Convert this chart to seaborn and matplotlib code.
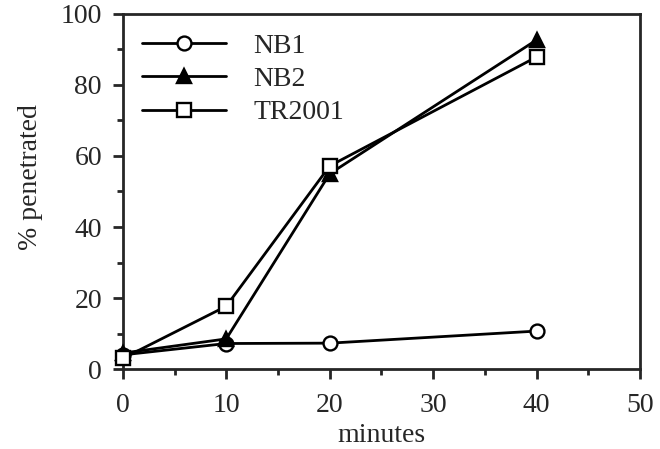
import matplotlib
matplotlib.use("Agg")
import matplotlib.pyplot as plt
import seaborn as sns
import pandas as pd
from matplotlib.ticker import MultipleLocator

minutes = [0, 10, 20, 40]
nb1 = [4, 7.2, 7.3, 10.7]
nb2 = [4.5, 8.5, 55, 92.7]
tr2001 = [3, 17.7, 57.2, 87.9]
series_names = ["NB1", "NB2", "TR2001"]

df = pd.DataFrame({
    "minutes": minutes * 3,
    "value": nb1 + nb2 + tr2001,
    "series": [s for s in series_names for _ in minutes],
})

sns.set_style("ticks")
plt.rcParams["font.family"] = ["Liberation Serif", "DejaVu Serif"]

fig = plt.figure(figsize=(6.6, 4.49), dpi=100)
ax = fig.add_axes([0.186, 0.178, 0.784, 0.791])

styles = {
    "NB1": dict(marker="o", mfc="white"),
    "NB2": dict(marker="^", mfc="black"),
    "TR2001": dict(marker="s", mfc="white"),
}
for name in series_names:
    sub = df[df.series == name]
    sns.lineplot(data=sub, x="minutes", y="value", ax=ax, color="black",
                 lw=2.0, marker=styles[name]["marker"], markersize=10,
                 markerfacecolor=styles[name]["mfc"], markeredgecolor="black",
                 markeredgewidth=1.7, label=name, clip_on=False, zorder=3)

ax.set_xlim(0, 50)
ax.set_ylim(0, 100)
ax.xaxis.set_major_locator(MultipleLocator(10))
ax.xaxis.set_minor_locator(MultipleLocator(5))
ax.yaxis.set_major_locator(MultipleLocator(20))
ax.yaxis.set_minor_locator(MultipleLocator(10))
ax.tick_params(which="major", direction="out", length=7, width=2,
               labelsize=20, top=False, right=False, pad=8)
ax.tick_params(axis="x", which="major", pad=10)
ax.tick_params(which="minor", direction="out", length=4.5, width=2,
               top=False, right=False)
for sp in ax.spines.values():
    sp.set_linewidth(2)
    sp.set_visible(True)
ax.set_xlabel("minutes", fontsize=20, labelpad=4)
ax.set_ylabel("% penetrated", fontsize=20)
ax.yaxis.set_label_coords(-0.155, 0.54)

leg = ax.legend(loc="upper left", frameon=False, fontsize=20, handlelength=3.0,
                handletextpad=1.0, labelspacing=0.28, borderaxespad=0.3,
                bbox_to_anchor=(0.0, 1.0))

fig.savefig("out.png", dpi=100)
